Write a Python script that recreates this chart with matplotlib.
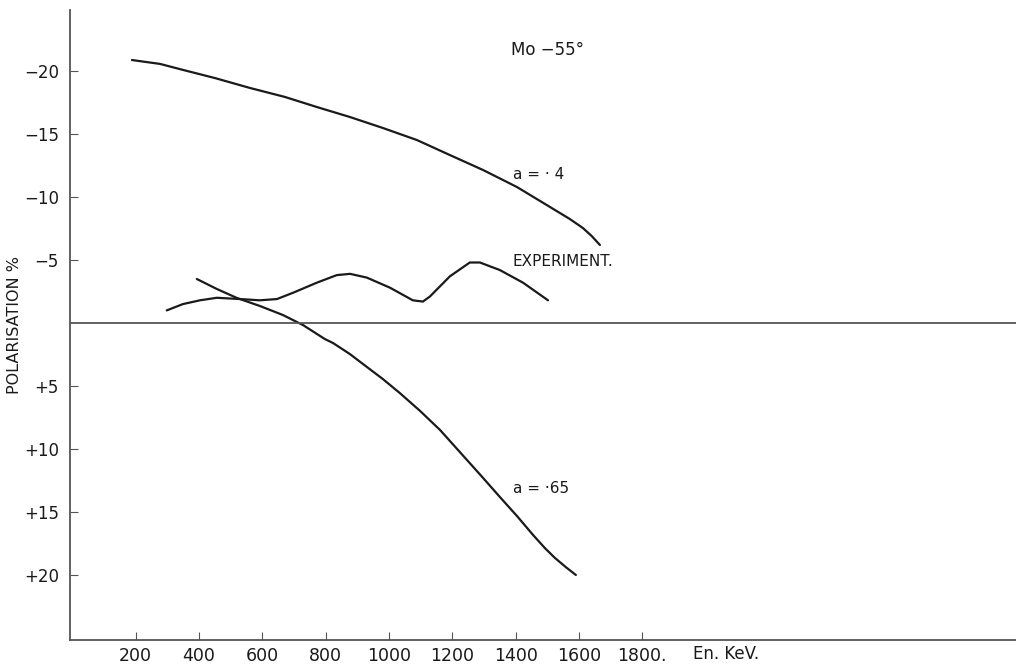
import matplotlib
matplotlib.use('Agg')
import matplotlib.pyplot as plt

# energy in keV, polarisation in %
a04_energy = [188, 277, 350, 450, 561, 671, 772, 876, 980, 1088, 1192, 1297,
              1404, 1508, 1571, 1612, 1640, 1666]
a04_pol = [-20.87, -20.56, -20.08, -19.44, -18.65, -17.94, -17.14, -16.35,
           -15.48, -14.52, -13.33, -12.14, -10.79, -9.21, -8.25, -7.54,
           -6.90, -6.19]

exp_energy = [298, 349, 403, 456, 529, 592, 646, 697, 772, 835, 877, 930,
              1003, 1075, 1107, 1129, 1192, 1255, 1287, 1350, 1423, 1502]
exp_pol = [-1.0, -1.5, -1.8, -2.0, -1.9, -1.8, -1.9, -2.4, -3.2, -3.8, -3.9,
           -3.6, -2.8, -1.8, -1.7, -2.1, -3.7, -4.8, -4.8, -4.2, -3.2, -1.8]

a065_energy = [393, 456, 520, 592, 665, 728, 797, 823, 876, 930, 980, 1034,
               1098, 1161, 1246, 1297, 1350, 1404, 1455, 1492, 1524, 1558,
               1590]
a065_pol = [-3.49, -2.70, -1.98, -1.35, -0.63, 0.16, 1.27, 1.59, 2.46, 3.49,
            4.44, 5.56, 6.98, 8.49, 10.87, 12.30, 13.81, 15.32, 16.83, 17.86,
            18.65, 19.37, 20.0]

x_ticks = [200, 400, 600, 800, 1000, 1200, 1400, 1600, 1800]
x_labels = ['200', '400', '600', '800', '1000', '1200', '1400', '1600', '1800.']
y_ticks = [-20, -15, -10, -5, 5, 10, 15, 20]
y_labels = ['\u221220', '\u221215', '\u221210', '\u22125',
            '+5', '+10', '+15', '+20']

plt.rcParams['font.family'] = ['DejaVu Sans']

fig = plt.figure(figsize=(10.16, 6.65), dpi=100)
ax = fig.add_axes([70 / 1016, 25 / 665, 946 / 1016, 630 / 665])

ink = '#1a1a1a'
for xs, ys in [(a04_energy, a04_pol), (exp_energy, exp_pol),
               (a065_energy, a065_pol)]:
    ax.plot(xs, ys, color=ink, lw=1.6, solid_joinstyle='round',
            solid_capstyle='round')
ax.axhline(0, color='#555555', lw=1.3)

ax.set_xlim(-7.6, 2980)
ax.set_ylim(25.16, -24.84)

for side in ['top', 'right']:
    ax.spines[side].set_visible(False)
for side in ['left', 'bottom']:
    ax.spines[side].set_color('#555555')
    ax.spines[side].set_linewidth(1.3)

ax.set_xticks(x_ticks)
ax.set_xticklabels(x_labels, fontsize=12.5, color=ink)
ax.set_yticks(y_ticks)
ax.set_yticklabels(y_labels, fontsize=12, color=ink)
ax.tick_params(axis='both', direction='in', length=6, width=0.8,
               colors='#555555', labelcolor=ink)
ax.tick_params(axis='x', pad=5)
ax.tick_params(axis='y', pad=8)

ax.set_ylabel('POLARISATION %', fontsize=11.5, color=ink)
ax.yaxis.set_label_coords(-0.051, 0.5)

ax.text(1960, 26.3, 'En. KeV.', fontsize=12, color=ink, va='center',
        ha='left', clip_on=False)
ax.text(1500, -21.7, 'Mo \u221255\u00b0', fontsize=12, color=ink,
        ha='center', va='center')
ax.text(1390, -11.8, 'a = \u00b7 4', fontsize=11, color=ink,
        ha='left', va='center')
ax.text(1390, 13.1, 'a = \u00b765', fontsize=11, color=ink,
        ha='left', va='center')
ax.text(1390, -4.9, 'EXPERIMENT.', fontsize=11, color=ink,
        ha='left', va='center')

fig.savefig('out.png', dpi=100)
